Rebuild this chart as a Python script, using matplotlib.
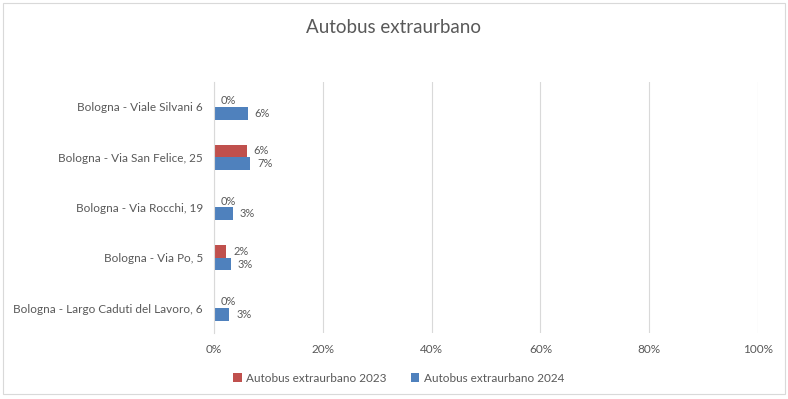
import matplotlib
matplotlib.use("Agg")
import matplotlib.pyplot as plt
import numpy as np
from matplotlib.patches import Rectangle

categories = ["Bologna - Largo Caduti del Lavoro, 6", "Bologna - Via Po, 5",
              "Bologna - Via Rocchi, 19", "Bologna - Via San Felice, 25",
              "Bologna - Viale Silvani 6"]
series_names = ["Autobus extraurbano 2023", "Autobus extraurbano 2024"]
values_2023 = [0.0, 2.2, 0.0, 6.0, 0.0]
values_2024 = [2.8, 3.1, 3.4, 6.6, 6.2]
xticks = [0, 20, 40, 60, 80, 100]
title = "Autobus extraurbano"

plt.rcParams['font.family'] = ['Lato', 'DejaVu Sans']
gray = "#595959"
red = "#C0504D"
blue = "#4F81BD"

fig = plt.figure(figsize=(7.88, 3.99), dpi=100)
fig.patches.append(Rectangle((0.004, 0.012), 0.992, 0.98, transform=fig.transFigure,
                             fill=False, edgecolor="#D9D9D9", linewidth=0.8))
ax = fig.add_axes([0.2716, 0.165, 0.6904, 0.63])

y = np.arange(len(categories))
h = 0.25
b1 = ax.barh(y + h / 2, values_2023, height=h, color=red, label=series_names[0])
b2 = ax.barh(y - h / 2, values_2024, height=h, color=blue, label=series_names[1])

for bars, vals in ((b1, values_2023), (b2, values_2024)):
    for bar, v in zip(bars, vals):
        ax.text(v + 1.3, bar.get_y() + bar.get_height() / 2, f"{round(v):.0f}%",
                va="center", ha="left", fontsize=8, color=gray)

ax.set_xlim(0, 100)
ax.set_ylim(-0.5, len(categories) - 0.5)
ax.set_xticks(xticks)
ax.set_xticklabels([f"{t}%" for t in xticks])
ax.set_yticks(y)
ax.set_yticklabels(categories)
ax.tick_params(axis="both", length=0, labelsize=8.5, colors=gray)
ax.tick_params(axis="x", pad=8)
ax.tick_params(axis="y", pad=8)
ax.grid(axis="x", color="#D9D9D9", linewidth=0.8)
ax.set_axisbelow(True)
for s in ["top", "right", "bottom"]:
    ax.spines[s].set_visible(False)
ax.spines["left"].set_color("#D9D9D9")
ax.spines["left"].set_linewidth(0.8)

fig.text(0.5, 0.93, title, ha="center", va="center", fontsize=13.5, color=gray)
fig.legend(handles=[b1, b2], loc="center", bbox_to_anchor=(0.506, 0.052), ncol=2,
           frameon=False, fontsize=8.5, labelcolor=gray, handlelength=0.7,
           handleheight=0.7, columnspacing=2.0, handletextpad=0.4)

fig.savefig("out.png", dpi=100)
